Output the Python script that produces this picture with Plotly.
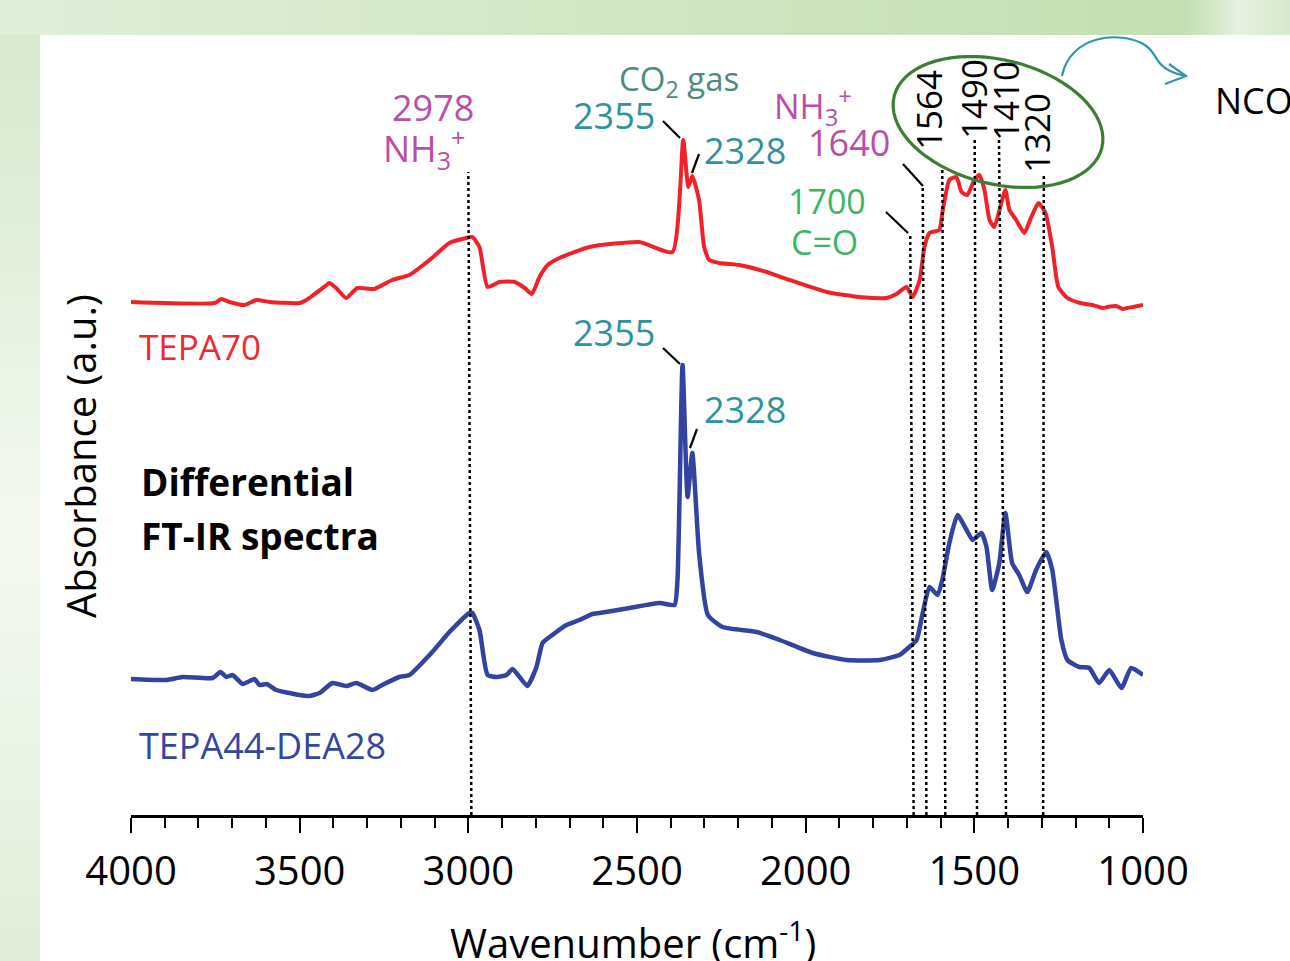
import base64
import math
import plotly.graph_objects as go

# ---------------- data ----------------
wn_tepa70 = [4000, 3752, 3732, 3708, 3664, 3628, 3589, 3500, 3480, 3420, 3412, 3392, 3362,
             3329, 3279, 3226, 3175, 3115, 3056, 3006, 2988, 2967, 2943, 2908, 2863, 2833,
             2812, 2789, 2765, 2730, 2641, 2493, 2395, 2363, 2348, 2336, 2316, 2301, 2286,
             2256, 2197, 2116, 2048, 1938, 1841, 1761, 1731, 1701, 1683, 1662, 1648, 1633,
             1604, 1595, 1574, 1553, 1538, 1521, 1500, 1485, 1470, 1455, 1441, 1420, 1408,
             1396, 1376, 1352, 1331, 1310, 1289, 1269, 1251, 1224, 1186, 1150, 1120, 1106,
             1080, 1060, 1047, 1030, 1000]
abs_tepa70 = [0.02, 0.01, 0.05, 0.02, -0.01, 0.04, 0.02, 0.01, 0.04, 0.19, 0.21, 0.16, 0.06,
              0.16, 0.15, 0.24, 0.29, 0.44, 0.61, 0.66, 0.67, 0.57, 0.17, 0.22, 0.22, 0.16,
              0.10, 0.27, 0.39, 0.46, 0.57, 0.62, 0.52, 1.64, 1.17, 1.28, 1.04, 0.57, 0.44,
              0.41, 0.39, 0.32, 0.24, 0.12, 0.07, 0.06, 0.10, 0.17, 0.07, 0.24, 0.57, 0.71,
              0.74, 0.91, 1.24, 1.27, 1.12, 1.09, 1.24, 1.29, 1.14, 0.84, 0.77, 1.01, 1.14,
              0.94, 0.84, 0.71, 0.87, 1.01, 0.91, 0.57, 0.17, 0.06, 0.01, -0.01, -0.04, -0.03,
              -0.02, -0.05, -0.04, -0.03, -0.01]

wn_tepa44 = [4000, 3895, 3847, 3758, 3735, 3717, 3699, 3669, 3634, 3619, 3598, 3569, 3500,
             3471, 3441, 3403, 3362, 3332, 3284, 3255, 3205, 3175, 3107, 3056, 2997, 2988,
             2967, 2943, 2916, 2887, 2869, 2848, 2825, 2798, 2780, 2751, 2709, 2671, 2632,
             2611, 2522, 2433, 2389, 2380, 2365, 2350, 2336, 2316, 2290, 2246, 2145, 2077,
             1979, 1879, 1781, 1722, 1686, 1671, 1653, 1633, 1609, 1595, 1574, 1550, 1523,
             1505, 1479, 1464, 1447, 1426, 1408, 1388, 1367, 1343, 1317, 1287, 1269, 1242,
             1224, 1189, 1159, 1130, 1100, 1064, 1035, 1000]
abs_tepa44 = [0.00, -0.01, 0.02, 0.01, 0.07, 0.02, 0.04, -0.05, 0.00, -0.06, -0.05, -0.11, -0.16,
              -0.17, -0.14, -0.04, -0.07, -0.04, -0.11, -0.06, 0.02, 0.04, 0.27, 0.47, 0.66, 0.66,
              0.49, 0.04, 0.02, 0.04, 0.10, 0.02, -0.07, 0.12, 0.36, 0.44, 0.54, 0.59, 0.65,
              0.66, 0.71, 0.76, 0.74, 0.99, 3.14, 1.82, 2.26, 1.26, 0.64, 0.52, 0.47, 0.39,
              0.26, 0.19, 0.19, 0.24, 0.34, 0.39, 0.66, 0.92, 0.84, 0.99, 1.36, 1.64, 1.49,
              1.39, 1.46, 1.32, 0.89, 1.16, 1.66, 1.16, 1.04, 0.87, 1.09, 1.27, 1.09, 0.39,
              0.19, 0.12, 0.11, -0.04, 0.09, -0.09, 0.11, 0.04]

offset_tepa70 = 5.11
offset_tepa44 = 1.36

# band marker lines: wavenumber at axis, wavenumber at top, height at top
band_names = ["2978", "1700", "1640", "1564", "1490", "1410", "1320"]
band_wn_bottom = [2991, 1680, 1642, 1586, 1492, 1406, 1296]
band_wn_top = [3000, 1690, 1653, 1595, 1499, 1427, 1294]
band_top_y = [6.43, 5.82, 6.28, 6.47, 6.78, 6.75, 6.42]

x_ticks = [4000, 3500, 3000, 2500, 2000, 1500, 1000]

# ---------------- geometry helpers ----------------
W, H = 1290, 961
PL, PR, PT, PB = 131, 1143, 35, 815


def fx(px):
    return (px - PL) / (PR - PL)


def fy(py):
    return (PB - py) / (PB - PT)


FONT = "Open Sans"
MAGENTA = "#B94FA6"
TEAL = "#2F939B"
CO2C = "#4E8A80"
GREEN = "#3DB562"
RED = "#EF2A2E"
BLUE = "#35469E"

fig = go.Figure()
fig.add_trace(go.Scatter(x=wn_tepa70, y=[v + offset_tepa70 for v in abs_tepa70],
                         mode="lines", line=dict(color="#F02228", width=4,
                                                 shape="spline", smoothing=0.5),
                         name="TEPA70", showlegend=False))
fig.add_trace(go.Scatter(x=wn_tepa44, y=[v + offset_tepa44 for v in abs_tepa44],
                         mode="lines", line=dict(color="#3343A0", width=4.5,
                                                 shape="spline", smoothing=0.5),
                         name="TEPA44-DEA28", showlegend=False))

shapes = []
for b, t, ty in zip(band_wn_bottom, band_wn_top, band_top_y):
    shapes.append(dict(type="line", xref="x", yref="y", x0=b, y0=0, x1=t, y1=ty,
                       line=dict(color="black", width=2.5, dash="dot")))

# leader lines (pixel coords)
leaders = [((663, 121), (680, 138)), ((699, 154), (692, 173)),
           ((663, 348), (680, 364)), ((697, 429), (690, 448)),
           ((886, 212), (908, 233)), ((903, 164), (923, 186))]
for (a, b) in leaders:
    shapes.append(dict(type="line", xref="paper", yref="paper",
                       x0=fx(a[0]), y0=fy(a[1]), x1=fx(b[0]), y1=fy(b[1]),
                       line=dict(color="black", width=2.2)))

# tilted ellipse
cx, cy, ea, eb, th = 998, 122, 107, 62, math.radians(14)
pts = []
for i in range(73):
    t = 2 * math.pi * i / 72
    ex = ea * math.cos(t)
    ey = eb * math.sin(t)
    px = cx + ex * math.cos(th) - ey * math.sin(th)
    py = cy + ex * math.sin(th) + ey * math.cos(th)
    pts.append((fx(px), fy(py)))
path = "M " + " L ".join(f"{x:.5f},{y:.5f}" for x, y in pts) + " Z"
shapes.append(dict(type="path", xref="paper", yref="paper", path=path,
                   line=dict(color="#3E7D36", width=3.2)))


def P(x, y):
    return f"{fx(x):.5f},{fy(y):.5f}"


arrow_path = (f"M {P(1062, 76)} C {P(1070, 35)} {P(1120, 30)} {P(1145, 45)} "
              f"C {P(1160, 55)} {P(1152, 68)} {P(1185, 76)}")
shapes.append(dict(type="path", xref="paper", yref="paper", path=arrow_path,
                   line=dict(color="#2E96A8", width=2.2)))
shapes.append(dict(type="path", xref="paper", yref="paper",
                   path=f"M {P(1169, 64)} L {P(1186, 76)} L {P(1165, 84)}",
                   line=dict(color="#2E96A8", width=2.2)))

annotations = []


def txt(text, px, py, size, color, xanchor="center", angle=0):
    annotations.append(dict(text=text, x=fx(px), y=fy(py), xref="paper", yref="paper",
                            xanchor=xanchor, yanchor="middle", showarrow=False,
                            textangle=angle, font=dict(family=FONT, size=size, color=color)))


txt("2978", 433, 107, 36, MAGENTA)
txt("NH<sub>3</sub><sup>+</sup>", 424, 148, 36, MAGENTA)
txt("CO<sub>2</sub> gas", 679, 80, 33, CO2C)
txt("2355", 614, 116, 36, TEAL)
txt("2328", 745, 150, 36, TEAL)
txt("NH<sub>3</sub><sup>+</sup>", 813, 106, 34, MAGENTA)
txt("1640", 849, 143, 36, MAGENTA)
txt("1700", 827, 201, 34, GREEN)
txt("C=O", 824, 242, 34, GREEN)
txt("TEPA70", 137, 346, 35, RED, xanchor="left")
txt("2355", 614, 332, 36, TEAL)
txt("2328", 745, 410, 36, TEAL)
txt("<b>Differential</b>", 139, 481, 37, "black", xanchor="left")
txt("<b>FT-IR spectra</b>", 139, 535, 37, "black", xanchor="left")
txt("TEPA44-DEA28", 137, 745, 36, BLUE, xanchor="left")
txt("1564", 928, 110, 35, "black", angle=-90)
txt("1490", 973, 99, 35, "black", angle=-90)
txt("1410", 1005, 101, 35, "black", angle=-90)
txt("1320", 1036, 133, 35, "black", angle=-90)
txt("NCO", 1213, 100, 36, "black", xanchor="left")
txt("Absorbance (a.u.)", 80, 456, 40, "black", angle=-90)
txt("Wavenumber (cm<sup>-1</sup>)", 633, 940, 40, "black")

# background (green slide gradient + white panel)
bg_svg = """<svg xmlns="http://www.w3.org/2000/svg" width="1290" height="961">
<defs>
<linearGradient id="top" x1="0" y1="0" x2="1" y2="0">
<stop offset="0" stop-color="#e0eed9"/>
<stop offset="0.5" stop-color="#d1e6c4"/>
<stop offset="0.92" stop-color="#c4dfb2"/>
<stop offset="0.96" stop-color="#e6f0e0"/>
<stop offset="1" stop-color="#d6e9cc"/>
</linearGradient>
<linearGradient id="left" x1="0" y1="0" x2="0" y2="1">
<stop offset="0" stop-color="#d6e8cc"/>
<stop offset="0.25" stop-color="#e2efdb"/>
<stop offset="0.55" stop-color="#f5f9f2"/>
<stop offset="0.8" stop-color="#eaf3e5"/>
<stop offset="1" stop-color="#e1edd8"/>
</linearGradient>
</defs>
<rect x="0" y="0" width="1290" height="961" fill="url(#left)"/>
<rect x="0" y="0" width="1290" height="35" fill="url(#top)"/>
<rect x="40" y="35" width="1250" height="926" fill="#ffffff"/>
</svg>"""
bg_src = "data:image/svg+xml;base64," + base64.b64encode(bg_svg.encode()).decode()

fig.update_layout(
    width=W, height=H,
    margin=dict(l=PL, r=W - PR, t=PT, b=H - PB, pad=0),
    paper_bgcolor="white", plot_bgcolor="rgba(0,0,0,0)",
    shapes=shapes, annotations=annotations,
    images=[dict(source=bg_src, xref="paper", yref="paper", x=fx(0), y=fy(0),
                 sizex=W / (PR - PL), sizey=H / (PB - PT), xanchor="left", yanchor="top",
                 sizing="stretch", layer="below")],
    xaxis=dict(range=[4000, 1000], tickvals=x_ticks, ticktext=[str(v) for v in x_ticks],
               ticks="outside", ticklen=15, tickwidth=2, tickcolor="black",
               showline=True, linewidth=3, linecolor="black", showgrid=False, zeroline=False,
               tickfont=dict(family=FONT, size=40, color="black"), ticklabelstandoff=4,
               minor=dict(dtick=100, tick0=1000, ticks="outside", ticklen=10, tickwidth=2,
                          tickcolor="black", showgrid=False)),
    yaxis=dict(range=[0, 7.8], visible=False, showgrid=False, zeroline=False),
    showlegend=False,
)

fig.write_html("out.html")
